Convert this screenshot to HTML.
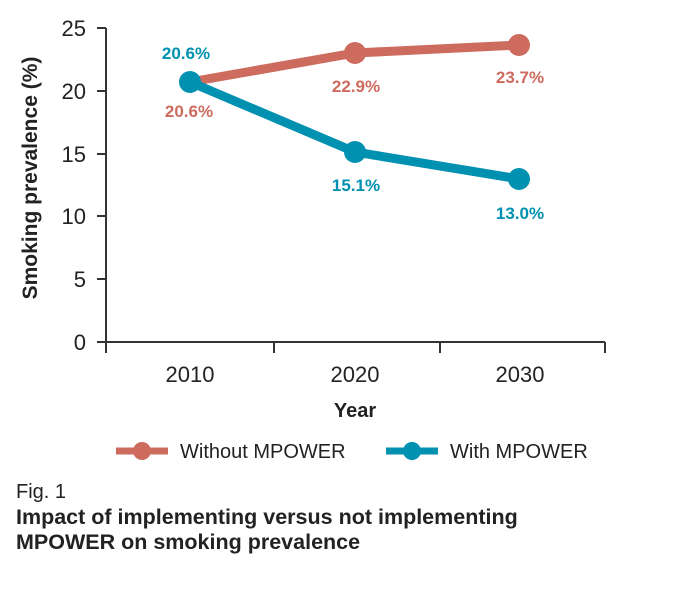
<!DOCTYPE html>
<html><head><style>
body{margin:0;background:#fff;width:700px;height:594px;overflow:hidden;font-family:"Liberation Sans",sans-serif;}
</style></head><body>
<svg width="700" height="594" xmlns="http://www.w3.org/2000/svg" font-family="Liberation Sans, sans-serif">
<g stroke="#333" stroke-width="2" fill="none">
<line x1="106" y1="28" x2="106" y2="353"/>
<line x1="106" y1="342" x2="605" y2="342"/>
<line x1="97" y1="28" x2="106" y2="28"/>
<line x1="97" y1="91" x2="106" y2="91"/>
<line x1="97" y1="154" x2="106" y2="154"/>
<line x1="97" y1="216" x2="106" y2="216"/>
<line x1="97" y1="279" x2="106" y2="279"/>
<line x1="97" y1="342" x2="106" y2="342"/>
<line x1="274" y1="342" x2="274" y2="353"/>
<line x1="440" y1="342" x2="440" y2="353"/>
<line x1="605" y1="342" x2="605" y2="353"/>
</g>
<g font-size="22" fill="#222" text-anchor="end">
<text x="86" y="36">25</text><text x="86" y="99">20</text><text x="86" y="162">15</text>
<text x="86" y="224">10</text><text x="86" y="287">5</text><text x="86" y="350">0</text>
</g>
<g font-size="22" fill="#222" text-anchor="middle">
<text x="190" y="382">2010</text><text x="355" y="382">2020</text><text x="520" y="382">2030</text>
<text x="355" y="417" font-weight="bold" font-size="20">Year</text>
</g>
<text transform="translate(37,178) rotate(-90)" text-anchor="middle" font-size="21" font-weight="bold" fill="#222">Smoking prevalence (%)</text>
<polyline points="190,82 355,53 519,45" fill="none" stroke="#cd6b5f" stroke-width="9"/>
<circle cx="355" cy="53" r="11" fill="#cd6b5f"/><circle cx="519" cy="45" r="11" fill="#cd6b5f"/>
<polyline points="190,82 355,152 519,179" fill="none" stroke="#0091b0" stroke-width="9"/>
<circle cx="190" cy="82" r="11" fill="#0091b0"/><circle cx="355" cy="152" r="11" fill="#0091b0"/><circle cx="519" cy="179" r="11" fill="#0091b0"/>
<g font-size="17" font-weight="bold" text-anchor="middle">
<text x="186" y="59" fill="#0091b0">20.6%</text>
<text x="189" y="117" fill="#cd6b5f">20.6%</text>
<text x="356" y="92" fill="#cd6b5f">22.9%</text>
<text x="520" y="83" fill="#cd6b5f">23.7%</text>
<text x="356" y="191" fill="#0091b0">15.1%</text>
<text x="520" y="219" fill="#0091b0">13.0%</text>
</g>
<line x1="116" y1="451" x2="168" y2="451" stroke="#cd6b5f" stroke-width="7"/>
<circle cx="142" cy="451" r="9" fill="#cd6b5f"/>
<text x="180" y="458" font-size="20" fill="#222">Without MPOWER</text>
<line x1="386" y1="451" x2="438" y2="451" stroke="#0091b0" stroke-width="7"/>
<circle cx="412" cy="451" r="9" fill="#0091b0"/>
<text x="450" y="458" font-size="20" fill="#222">With MPOWER</text>
<text x="16" y="498" font-size="20" fill="#222">Fig. 1</text>
<text x="16" y="524" font-size="21.5" font-weight="bold" fill="#222">Impact of implementing versus not implementing</text>
<text x="16" y="549" font-size="21.5" font-weight="bold" fill="#222">MPOWER on smoking prevalence</text>
</svg>
</body></html>
